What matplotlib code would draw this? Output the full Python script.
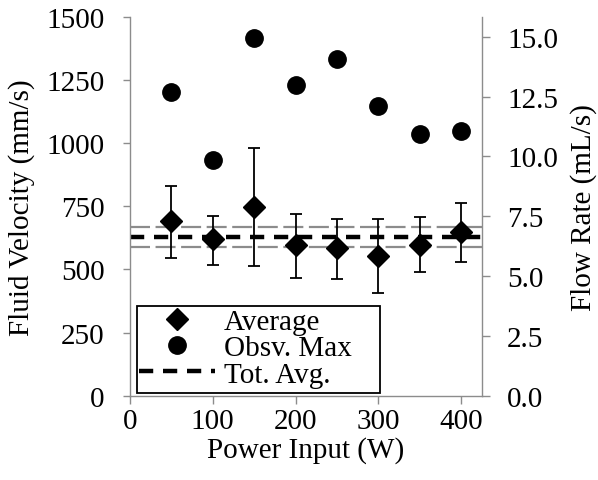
import numpy as np
import matplotlib
matplotlib.use("Agg")
import matplotlib.pyplot as plt
from matplotlib.lines import Line2D
from matplotlib.patches import Rectangle

# Power input (W)
power = [50, 100, 150, 200, 250, 300, 350, 400]
# Average fluid velocity (mm/s) with error bar extents
avg_vel = [690, 619, 748, 595, 584, 553, 598, 650]
err_top = [829, 713, 981, 721, 700, 700, 706, 765]
err_bot = [547, 516, 513, 468, 463, 405, 490, 529]
# Observed max velocity (mm/s)
max_vel = [1202, 933, 1416, 1231, 1334, 1147, 1036, 1050]
# Total average and its band (mm/s)
tot_avg = 628
band_hi = 670
band_lo = 587

x_ticks = [0, 100, 200, 300, 400]
y_ticks = [0, 250, 500, 750, 1000, 1250, 1500]
y2_ticks = [0.0, 2.5, 5.0, 7.5, 10.0, 12.5, 15.0]

plt.rcParams["font.family"] = ["Liberation Serif", "DejaVu Serif"]
plt.rcParams["font.size"] = 21
SPINE = "#8c8c8c"

fig = plt.figure(figsize=(5.98, 4.81), dpi=100)
ax = fig.add_axes([0.217, 0.175, 0.589, 0.788])

avg = np.array(avg_vel)
yerr = [avg - np.array(err_bot), np.array(err_top) - avg]

ax.axhline(band_hi, color="#8c8c8c", lw=1.6, dashes=(9, 2.5), zorder=1)
ax.axhline(band_lo, color="#8c8c8c", lw=1.6, dashes=(9, 2.5), zorder=1)
ax.axhline(tot_avg, color="black", lw=3.2, dashes=(3.2, 2.2), zorder=2)

ax.errorbar(power, avg_vel, yerr=yerr, fmt="none", ecolor="black",
            elinewidth=1.3, capsize=4.5, capthick=1.3, zorder=3)
ax.plot(power, avg_vel, "D", color="black", ms=11, ls="none", zorder=4)
ax.plot(power, max_vel, "o", color="black", ms=12.5, ls="none", zorder=4)

ax.set_xlim(0, 425)
ax.set_ylim(0, 1500)
ax.set_xticks(x_ticks)
ax.set_yticks(y_ticks)
ax.set_xlabel("Power Input (W)", labelpad=1)
ax.set_ylabel("Fluid Velocity (mm/s)", labelpad=8)

ax2 = ax.twinx()
ax2.set_ylim(0, 15.835)
ax2.set_yticks(y2_ticks)
ax2.set_yticklabels([f"{v:.1f}" for v in y2_ticks])
ax2.set_ylabel("Flow Rate (mL/s)", labelpad=9)

for a in (ax, ax2):
    a.spines["top"].set_visible(False)
    for s in ("left", "right", "bottom"):
        a.spines[s].set_color(SPINE)
        a.spines[s].set_linewidth(1.0)

ax.spines["right"].set_visible(False)
ax2.spines["left"].set_visible(False)
ax2.spines["bottom"].set_visible(False)

ax.tick_params(axis="y", direction="out", length=5, width=1, color=SPINE, pad=13)
ax.tick_params(axis="x", direction="out", length=6, width=1, color=SPINE, pad=3)
ax2.tick_params(axis="y", direction="out", length=6, width=1, color=SPINE, pad=12)

# legend box drawn separately (wider than its contents, as in the original)
ax.add_patch(Rectangle((0.02, 0.008), 0.69, 0.229, transform=ax.transAxes,
                       facecolor="white", edgecolor="black", lw=1.3,
                       zorder=5, clip_on=False))

handles = [
    Line2D([], [], marker="D", color="black", ms=11, ls="none"),
    Line2D([], [], marker="o", color="black", ms=12.5, ls="none"),
    Line2D([], [], color="black", lw=3.2, dashes=(3.2, 2.2)),
]
leg = ax.legend(handles, ["Average", "Obsv. Max", "Tot. Avg."],
                loc="lower left", bbox_to_anchor=(0.015, 0.01),
                borderaxespad=0, frameon=False, labelspacing=0.0,
                borderpad=0.15, handletextpad=0.3, handlelength=2.6)
leg.set_zorder(6)

fig.savefig("out.png", dpi=100)
